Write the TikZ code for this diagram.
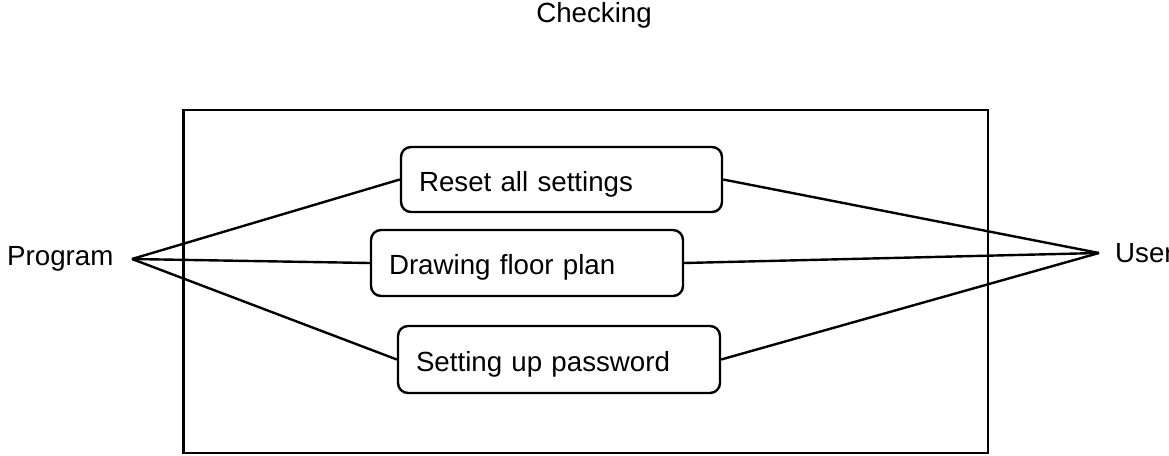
\documentclass[tikz,border=0pt]{standalone}
\usepackage{fontspec}
\setmainfont{Liberation Sans}
\begin{document}
\begin{tikzpicture}[x=1pt,y=-1pt,
  lbl/.style={font=\fontsize{27.7}{33}\selectfont, inner sep=0pt},
  usecase/.style={draw, line width=2.4pt, rounded corners=10pt,
    font=\fontsize{27.7}{33}\selectfont, align=left,
    inner xsep=18pt, inner ysep=4pt, text height=30pt, text depth=7pt},
  link/.style={line width=2.4pt}]
  \useasboundingbox (0,0) rectangle (1169,455);

  % system boundary
  \node[draw, line width=2.8pt, minimum width=804.5pt, minimum height=343pt,
        inner sep=0pt] (frame) at (585.75,281.5) {};
  \node[lbl, anchor=base] (title) at (594,23) {Checking};

  % use cases
  \node[usecase, text width=285pt, minimum height=65pt] (reset) at (561.5,179.5) {Reset all settings};
  \node[usecase, text width=276pt, minimum height=66pt] (draw) at (527,263) {Drawing floor plan};
  \node[usecase, text width=286pt, minimum height=67pt] (pwd) at (559,359.5) {Setting up password};

  % actors
  \coordinate (progpt) at (132,259);
  \coordinate (userpt) at (1099,253);
  \node[lbl, anchor=base west] (prog) at (7,265) {Program};
  \node[lbl, anchor=base west] (user) at (1115,262.7) {User};

  % associations
  \draw[link] (progpt) -- (reset.west);
  \draw[link] (progpt) -- (draw.west);
  \draw[link] (progpt) -- (pwd.west);
  \draw[link] (reset.east) -- (userpt);
  \draw[link] (draw.east) -- (userpt);
  \draw[link] (pwd.east) -- (userpt);
\end{tikzpicture}
\end{document}
